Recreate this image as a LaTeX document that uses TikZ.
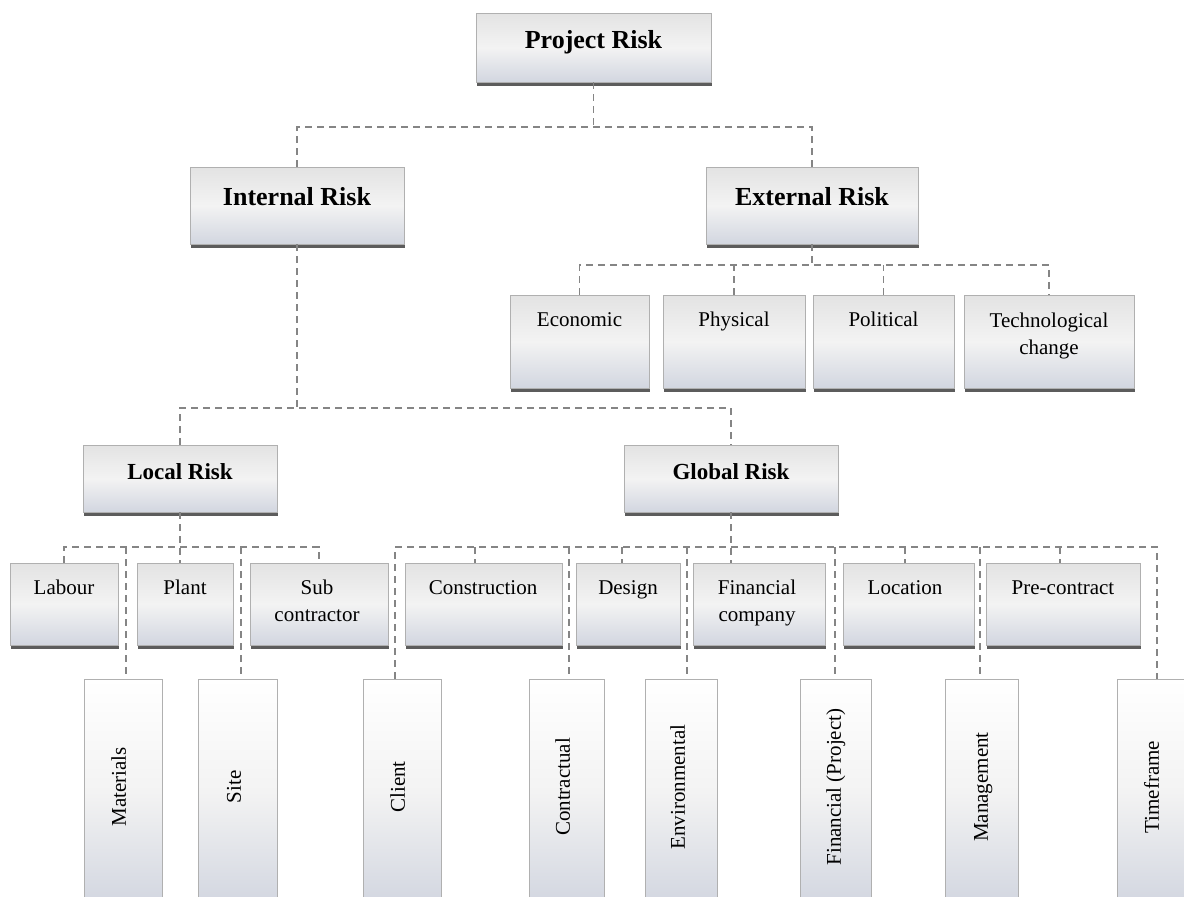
\documentclass[tikz,border=0pt]{standalone}
\usepackage{fontspec}
\setmainfont{Liberation Serif}
\usetikzlibrary{calc,shadows}
\definecolor{lineg}{HTML}{858585}
\definecolor{bordg}{HTML}{B0B0B0}
\definecolor{shadg}{HTML}{5C5C5C}
\definecolor{gtop}{HTML}{E3E3E3}
\definecolor{gmid}{HTML}{F3F3F3}
\definecolor{gbot}{HTML}{D2D6E0}
\newcommand\mkbox[6]{\node[boxsty,#6,minimum width={(#4)-(#2)},minimum height={(#5)-(#3)}] (#1) at ({((#2)+(#4))/2},{((#3)+(#5))/2}) {};}
\begin{document}
\begin{tikzpicture}[x=1pt,y=-1pt,
  boxsty/.style={draw=bordg, line width=0.7pt, top color=gtop, bottom color=gbot, middle color=gmid, inner sep=0pt,
    drop shadow={shadow xshift=1.2pt, shadow yshift=-3.5pt, fill=shadg, opacity=1}},
  tallsty/.style={top color=white, bottom color=gbot, middle color=gmid},
  conn/.style={draw=lineg, line width=1.6pt, dash pattern=on 7pt off 5pt},
  bigt/.style={font=\fontsize{26}{31}\selectfont\bfseries, inner sep=0pt, text height=17.2pt, text depth=0pt},
  midt/.style={font=\fontsize{23}{28}\selectfont\bfseries, inner sep=0pt, text height=15.2pt, text depth=0pt},
  regt/.style={font=\fontsize{21}{27.5}\selectfont, inner sep=0pt, text height=13.9pt, text depth=0pt},
  twot/.style={font=\fontsize{21}{27.5}\selectfont, inner sep=0pt, align=center},
  vert/.style={font=\fontsize{21}{27.5}\selectfont, inner sep=0pt, text height=13.9pt, text depth=0pt, rotate=90},
]
\useasboundingbox (0,0) rectangle (1184,897);
\fill[white] (0,0) rectangle (1184,897);
\clip (0,0) rectangle (1184,897);

% level boxes
\mkbox{proj}{476}{13}{711}{82}{}
\mkbox{int}{190}{167}{404}{244}{}
\mkbox{ext}{706}{167}{918}{244}{}
\mkbox{eco}{510}{295}{649}{388}{}
\mkbox{phy}{663}{295}{805}{388}{}
\mkbox{pol}{813}{295}{954}{388}{}
\mkbox{tech}{964}{295}{1134}{388}{}
\mkbox{loc}{83}{445}{277}{512}{}
\mkbox{glo}{624}{445}{838}{512}{}
\mkbox{lab}{10}{563}{118}{645}{}
\mkbox{pla}{137}{563}{233}{645}{}
\mkbox{sub}{250}{563}{388}{645}{}
\mkbox{con}{405}{563}{562}{645}{}
\mkbox{des}{576}{563}{680}{645}{}
\mkbox{fco}{693}{563}{825}{645}{}
\mkbox{locn}{843}{563}{974}{645}{}
\mkbox{pre}{986}{563}{1140}{645}{}
% bottom (tall) boxes
\mkbox{mat}{84}{679}{162}{905}{tallsty}
\mkbox{site}{198}{679}{277}{905}{tallsty}
\mkbox{cli}{363}{679}{441}{905}{tallsty}
\mkbox{ctr}{529}{679}{604}{905}{tallsty}
\mkbox{env}{645}{679}{717}{905}{tallsty}
\mkbox{fpr}{800}{679}{871}{905}{tallsty}
\mkbox{mgt}{945}{679}{1018}{905}{tallsty}
\mkbox{tim}{1117}{679}{1192}{905}{tallsty}

% texts
\node[bigt] (proj-t) at (593.5,40) {Project Risk};
\node[bigt] (int-t) at (297,197) {Internal Risk};
\node[bigt] (ext-t) at (812,197) {External Risk};
\node[regt] (eco-t) at (579.5,320) {Economic};
\node[regt] (phy-t) at (734,320) {Physical};
\node[regt] (pol-t) at (883.5,320) {Political};
\node[twot] (tech-t) at (1049,336) {Technological\\change};
\node[midt] (loc-t) at (180,472) {Local Risk};
\node[midt] (glo-t) at (731,472) {Global Risk};
\node[regt] (lab-t) at (64,588) {Labour};
\node[regt] (pla-t) at (185,588) {Plant};
\node[twot] (sub-t) at (317,601) {Sub\\contractor};
\node[regt] (con-t) at (483,588) {Construction};
\node[regt] (des-t) at (628,588) {Design};
\node[twot] (fco-t) at (757,603) {Financial\\company};
\node[regt] (locn-t) at (905,588) {Location};
\node[regt] (pre-t) at (1063,588) {Pre-contract};
\node[vert] (mat-t) at (119,787) {Materials};
\node[vert] (site-t) at (234,787) {Site};
\node[vert] (cli-t) at (398,787) {Client};
\node[vert] (ctr-t) at (563,787) {Contractual};
\node[vert] (env-t) at (678,787) {Environmental};
\node[vert] (fpr-t) at (834,787) {Financial (Project)};
\node[vert] (mgt-t) at (981,787) {Management};
\node[vert] (tim-t) at (1152,787) {Timeframe};

% junction coordinates
\coordinate (j0) at (593.5,127);
\coordinate (j1) at (812,265);
\coordinate (j2) at (297,408);
\coordinate (j3) at (180,547);
\coordinate (m1) at (126,547);
\coordinate (s1) at (241,547);
\coordinate (gL) at (395,547);
\coordinate (gR) at (1157,547);
\coordinate (gcon) at (475,547);
\coordinate (gctr) at (569,547);
\coordinate (gdes) at (622,547);
\coordinate (genv) at (687,547);
\coordinate (gfpr) at (835,547);
\coordinate (gloc) at (905,547);
\coordinate (gmgt) at (980,547);
\coordinate (gpre) at (1060,547);

% connectors
\draw[conn] (proj.south) -- (j0);
\draw[conn] (int.north) |- (j0) -| (ext.north);
\draw[conn] (ext.south) -- (j1);
\draw[conn] (eco.north) |- (j1) -| (tech.north);
\draw[conn] (phy.north) -- (phy.north |- j1);
\draw[conn] (pol.north) -- (pol.north |- j1);
\draw[conn] (int.south) -- (j2);
\draw[conn] (loc.north) |- (j2) -| (glo.north);
\draw[conn] (loc.south) -- (loc.south |- pla.north);
\draw[conn] (lab.north) |- (j3) -| (sub.north);
\draw[conn] (m1) -- (m1 |- mat.north);
\draw[conn] (s1) -- (s1 |- site.north);
\draw[conn] (glo.south) -- (glo.south |- fco.north);
\draw[conn] (gL |- cli.north) -- (gL) -- (gR) -- (gR |- tim.north);
\draw[conn] (gcon) -- (gcon |- con.north);
\draw[conn] (gctr) -- (gctr |- ctr.north);
\draw[conn] (gdes) -- (gdes |- des.north);
\draw[conn] (genv) -- (genv |- env.north);
\draw[conn] (gfpr) -- (gfpr |- fpr.north);
\draw[conn] (gloc) -- (gloc |- locn.north);
\draw[conn] (gmgt) -- (gmgt |- mgt.north);
\draw[conn] (gpre) -- (gpre |- pre.north);
\end{tikzpicture}
\end{document}
